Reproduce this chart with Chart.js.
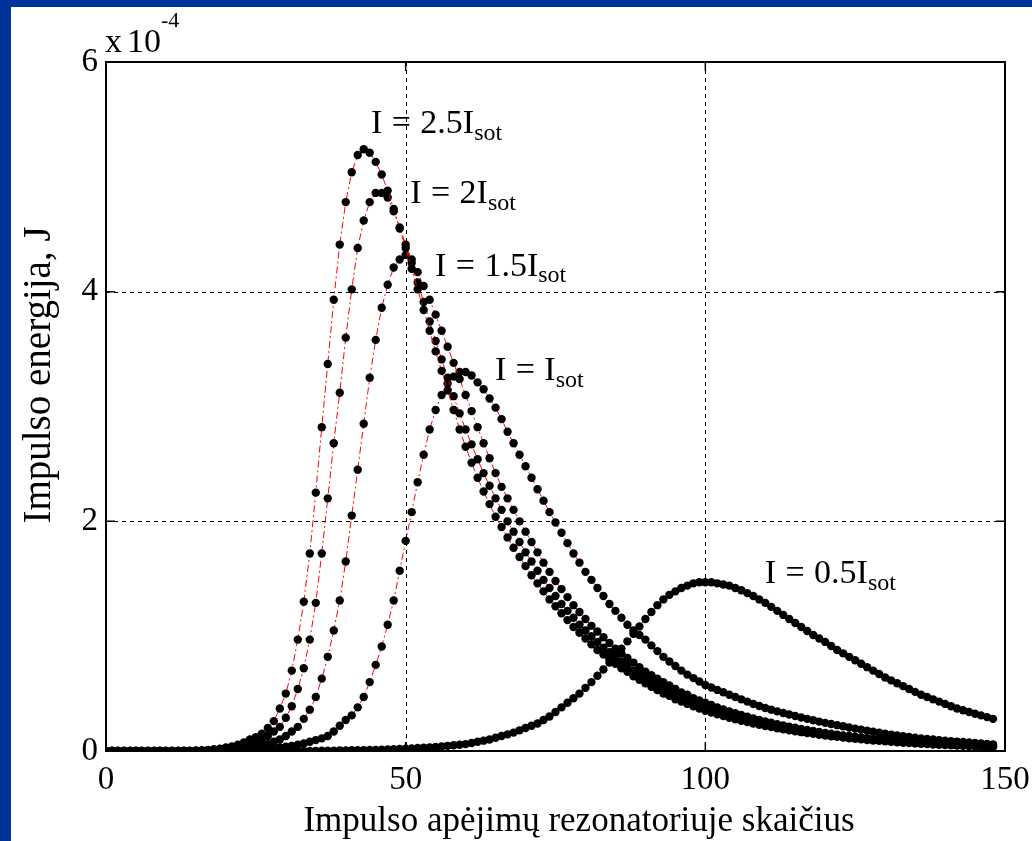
<!DOCTYPE html>
<html><head><meta charset="utf-8">
<script src="https://cdn.jsdelivr.net/npm/chart.js@4.4.1/dist/chart.umd.min.js"></script>
<style>
html,body{margin:0;padding:0;background:#fff;}
body{width:1032px;height:841px;position:relative;overflow:hidden;}
#bandTop{position:absolute;left:0;top:0;width:1032px;height:7px;background:#003399;}
#bandLeft{position:absolute;left:0;top:0;width:11px;height:841px;background:#003399;}
#c{position:absolute;left:0;top:0;}
</style></head><body>
<div id="bandTop"></div><div id="bandLeft"></div>
<canvas id="c" width="1032" height="841"></canvas>
<script>
// ---- data (energy in units of 1e-4 J) ----
const xTicks = [0, 50, 100, 150];
const yTicks = [0, 2, 4, 6];

const energy25 = [0,0,0,0,0,0,0,0,0,0,0,0,0,0,0,
0.005,0.007,0.01,0.015,0.02,
0.03,0.04,0.055,0.075,0.1,
0.12,0.15,0.2,0.26,0.37,
0.5,0.7,0.97,1.3,1.72,
2.25,2.82,3.37,3.93,4.41,
4.78,5.04,5.19,5.24,5.21,
5.13,5.02,4.88,4.72,4.55,
4.38,4.2,4.02,3.84,3.66,
3.48,3.31,3.14,2.97,2.8,
2.65,2.51,2.38,2.26,2.15,
2.04,1.95,1.86,1.77,1.69,
1.61,1.53,1.46,1.39,1.32,
1.26,1.2,1.14,1.08,1.03,
0.98,0.93,0.88,0.84,0.8,
0.76,0.72,0.69,0.65,0.62,
0.59,0.56,0.53,0.5,0.48,
0.45,0.43,0.41,0.39,0.37,
0.35,0.335,0.32,0.305,0.29,
0.277,0.264,0.252,0.24,0.229,
0.218,0.208,0.198,0.189,0.18,
0.172,0.164,0.156,0.149,0.142,
0.135,0.129,0.123,0.117,0.111,
0.106,0.101,0.096,0.092,0.088,
0.084,0.08,0.076,0.072,0.069,
0.066,0.063,0.06,0.057,0.054,
0.052,0.05,0.047,0.045,0.043,
0.041,0.039,0.037,0.035];

const energy20 = [0,0,0,0,0,0,0,0,0,0,0,0,0,0,0,0,0,
0.005,0.007,0.01,
0.015,0.02,0.03,0.04,0.06,
0.08,0.1,0.13,0.17,0.21,
0.29,0.39,0.54,0.72,0.97,
1.29,1.72,2.2,2.68,3.12,
3.6,4.02,4.38,4.62,4.78,
4.86,4.86,4.82,4.7,4.56,
4.41,4.25,4.08,3.91,3.74,
3.57,3.41,3.25,3.09,2.94,
2.8,2.67,2.54,2.42,2.31,
2.2,2.1,2.0,1.91,1.82,
1.73,1.65,1.57,1.49,1.42,
1.35,1.28,1.22,1.16,1.1,
1.05,1.0,0.95,0.9,0.86,
0.82,0.78,0.74,0.7,0.67,
0.64,0.61,0.58,0.55,0.52,
0.5,0.47,0.45,0.43,0.41,
0.39,0.372,0.355,0.338,0.322,
0.307,0.293,0.279,0.266,0.254,
0.242,0.231,0.22,0.21,0.2,
0.191,0.182,0.173,0.165,0.157,
0.15,0.143,0.136,0.13,0.124,
0.118,0.112,0.107,0.102,0.097,
0.093,0.088,0.084,0.08,0.076,
0.073,0.07,0.066,0.063,0.06,
0.058,0.055,0.053,0.05,0.048,
0.046,0.044,0.042,0.04];

const energy15 = [0,0,0,0,0,0,0,0,0,0,0,0,0,0,0,0,0,0,0,0,
0.005,0.007,0.01,0.015,0.02,
0.03,0.04,0.06,0.08,0.1,
0.13,0.17,0.21,0.28,0.36,
0.47,0.63,0.82,1.05,1.31,
1.65,2.05,2.45,2.85,3.25,
3.58,3.86,4.06,4.21,4.28,
4.32,4.28,4.17,4.05,3.93,
3.8,3.66,3.52,3.38,3.24,
3.1,2.96,2.82,2.68,2.55,
2.42,2.3,2.2,2.1,2.0,
1.91,1.82,1.73,1.64,1.56,
1.48,1.41,1.34,1.27,1.21,
1.15,1.09,1.04,0.99,0.94,
0.89,0.85,0.81,0.77,0.73,
0.69,0.66,0.63,0.6,0.57,
0.54,0.51,0.49,0.46,0.44,
0.42,0.4,0.38,0.362,0.345,
0.329,0.313,0.298,0.284,0.271,
0.258,0.246,0.234,0.223,0.212,
0.202,0.192,0.183,0.174,0.166,
0.158,0.15,0.143,0.136,0.13,
0.124,0.118,0.112,0.107,0.102,
0.097,0.092,0.088,0.084,0.08,
0.076,0.072,0.069,0.066,0.063,
0.06,0.057,0.054,0.052,0.049,
0.047,0.045,0.043,0.041];

const energy10 = [0,0,0,0,0,0,0,0,0,0,0,0,0,0,0,0,0,0,0,0,0,0,
0.005,0.007,0.01,
0.013,0.016,0.02,0.025,0.03,
0.037,0.045,0.055,0.066,0.08,
0.095,0.11,0.13,0.17,0.22,
0.27,0.31,0.38,0.47,0.6,
0.75,0.91,1.1,1.31,1.57,
1.83,2.08,2.34,2.58,2.8,
2.97,3.1,3.2,3.26,3.3,
3.3,3.27,3.21,3.15,3.07,
2.99,2.89,2.78,2.68,2.58,
2.48,2.38,2.28,2.18,2.08,
1.99,1.9,1.81,1.72,1.64,
1.56,1.49,1.42,1.35,1.28,
1.22,1.16,1.1,1.05,1.01,
0.97,0.92,0.87,0.82,0.78,
0.74,0.7,0.665,0.635,0.605,
0.575,0.553,0.532,0.511,0.49,
0.47,0.45,0.43,0.41,0.392,
0.375,0.36,0.345,0.331,0.318,
0.305,0.292,0.28,0.268,0.256,
0.245,0.235,0.225,0.215,0.205,
0.195,0.186,0.177,0.168,0.159,
0.15,0.143,0.136,0.129,0.122,
0.115,0.11,0.105,0.1,0.095,
0.09,0.086,0.082,0.078,0.074,
0.07,0.066,0.062,0.058];

const energy05 = [0,0,0,0,0,0,0,0,0,0,0,0,0,0,0,0,0,0,0,0,0,0,0,0,0,0,0,0,0,0,0,0,0,0,0,0,
0.002,0.003,0.003,0.004,
0.005,0.006,0.007,0.008,0.009,
0.01,0.012,0.014,0.016,0.018,
0.02,0.023,0.026,0.029,0.032,
0.035,0.04,0.045,0.05,0.055,
0.06,0.07,0.08,0.09,0.1,
0.115,0.13,0.145,0.16,0.18,
0.2,0.22,0.24,0.27,0.3,
0.34,0.38,0.42,0.46,0.5,
0.55,0.6,0.655,0.71,0.77,
0.83,0.89,0.955,1.02,1.085,
1.15,1.21,1.27,1.32,1.36,
1.39,1.42,1.44,1.46,1.47,
1.47,1.47,1.46,1.45,1.44,
1.42,1.4,1.375,1.35,1.32,
1.29,1.255,1.22,1.185,1.15,
1.115,1.08,1.045,1.01,0.98,
0.95,0.915,0.88,0.85,0.82,
0.79,0.76,0.73,0.7,0.67,
0.64,0.615,0.59,0.565,0.54,
0.515,0.49,0.47,0.45,0.43,
0.41,0.39,0.37,0.355,0.34,
0.325,0.31,0.295,0.28];

const seriesMain = ['I=2.5I', 'I=2I', 'I=1.5I', 'I=I', 'I=0.5I'];
const seriesSub = 'sot';
const xTitle = 'Impulso apėjimų rezonatoriuje skaičius';
const yTitle = 'Impulso energija, J';

// label anchors (data coords, left/baseline) -- layout only
const labelAnchors = [[44.2,5.38],[50.75,4.77],[54.9,4.14],[64.9,3.23],[109.9,1.46]];

const allSeries = [energy25, energy20, energy15, energy10, energy05];
function toPoints(arr){ return arr.map((v,i)=>({x:i, y:v})); }

const SERIF = "'Liberation Serif','Times New Roman',serif";

const decorPlugin = {
  id:'decor',
  beforeDatasetsDraw(chart){
    const {ctx, chartArea:a, scales:{x,y}} = chart;
    ctx.save();
    ctx.strokeStyle='#000'; ctx.lineWidth=1; ctx.setLineDash([4,4]);
    xTicks.slice(1,-1).forEach(v=>{const px=Math.round(x.getPixelForValue(v))+0.5;
      ctx.beginPath(); ctx.moveTo(px,a.top); ctx.lineTo(px,a.bottom); ctx.stroke();});
    yTicks.slice(1,-1).forEach(v=>{const py=Math.round(y.getPixelForValue(v))+0.5;
      ctx.beginPath(); ctx.moveTo(a.left,py); ctx.lineTo(a.right,py); ctx.stroke();});
    ctx.restore();
  },
  afterDatasetsDraw(chart){
    const {ctx, chartArea:a, scales:{x,y}} = chart;
    ctx.save();
    ctx.setLineDash([]);
    ctx.strokeStyle='#000'; ctx.lineWidth=2;
    ctx.strokeRect(a.left, a.top, a.right-a.left, a.bottom-a.top);
    ctx.lineWidth=1.5;
    const tl=9;
    xTicks.forEach(v=>{const px=x.getPixelForValue(v);
      ctx.beginPath(); ctx.moveTo(px,a.bottom); ctx.lineTo(px,a.bottom-tl);
      ctx.moveTo(px,a.top); ctx.lineTo(px,a.top+tl); ctx.stroke();});
    yTicks.forEach(v=>{const py=y.getPixelForValue(v);
      ctx.beginPath(); ctx.moveTo(a.left,py); ctx.lineTo(a.left+tl,py);
      ctx.moveTo(a.right,py); ctx.lineTo(a.right-tl,py); ctx.stroke();});
    ctx.restore();
  },
  afterDraw(chart){
    const {ctx, scales:{x,y}} = chart;
    ctx.save();
    ctx.fillStyle='#000';
    ctx.textBaseline='alphabetic';
    // multiplier
    ctx.font='34px '+SERIF;
    ctx.textAlign='left';
    ctx.fillText('x', 105, 52);
    ctx.fillText('10', 127, 52);
    ctx.font='22px '+SERIF;
    ctx.fillText('-4', 161, 27);
    // x title
    ctx.font='35px '+SERIF;
    ctx.textAlign='center';
    ctx.fillText(xTitle, 579, 831);
    // y title
    ctx.save();
    ctx.font='39px '+SERIF;
    ctx.translate(50, 375);
    ctx.rotate(-Math.PI/2);
    ctx.fillText(yTitle, 0, 0);
    ctx.restore();
    // curve labels
    ctx.textAlign='left';
    seriesMain.forEach((t,i)=>{
      const px = x.getPixelForValue(labelAnchors[i][0]);
      const py = y.getPixelForValue(labelAnchors[i][1]);
      const fs = 34;
      ctx.font = fs+'px '+SERIF;
      const gap = fs*0.278;
      const parts = t.split('=');
      let cx = px;
      ctx.fillText(parts[0], cx, py); cx += ctx.measureText(parts[0]).width + gap;
      ctx.fillText('=', cx, py); cx += ctx.measureText('=').width + gap;
      ctx.fillText(parts[1], cx, py); cx += ctx.measureText(parts[1]).width;
      ctx.font = '24px '+SERIF;
      ctx.fillText(seriesSub, cx, py+6.5);
    });
    ctx.restore();
  }
};

const datasets = allSeries.map(arr=>({
  data: toPoints(arr),
  borderColor:'#ff0000',
  borderWidth:1,
  borderDash:[7,3,2,3],
  pointRadius:4.2,
  pointBackgroundColor:'#000',
  pointBorderColor:'#000',
  pointBorderWidth:0,
  fill:false,
  tension:0
}));

new Chart(document.getElementById('c'), {
  type:'line',
  data:{ datasets },
  options:{
    responsive:false,
    devicePixelRatio:1,
    animation:false,
    events:[],
    layout:{ padding:{ left:0, top:62, right:27, bottom:0 } },
    plugins:{ legend:{display:false}, tooltip:{enabled:false} },
    scales:{
      x:{
        type:'linear', min:0, max:150,
        grid:{ display:false, drawTicks:false },
        border:{ display:false },
        ticks:{ stepSize:50, color:'#000', padding:10, maxRotation:0,
          font:{ family:SERIF, size:33 },
          callback:(v)=> xTicks.includes(v) ? String(v) : '' },
        afterFit:(s)=>{ s.height = 90; s.paddingLeft = 0; s.paddingRight = 0; }
      },
      y:{
        type:'linear', min:0, max:6,
        grid:{ display:false, drawTicks:false },
        border:{ display:false },
        ticks:{ stepSize:2, color:'#000', padding:8,
          font:{ family:SERIF, size:33 },
          callback:(v)=> yTicks.includes(v) ? String(v) : '' },
        afterFit:(s)=>{ s.width = 106; s.paddingTop = 0; s.paddingBottom = 0; }
      }
    }
  },
  plugins:[decorPlugin]
});
</script>
</body></html>
